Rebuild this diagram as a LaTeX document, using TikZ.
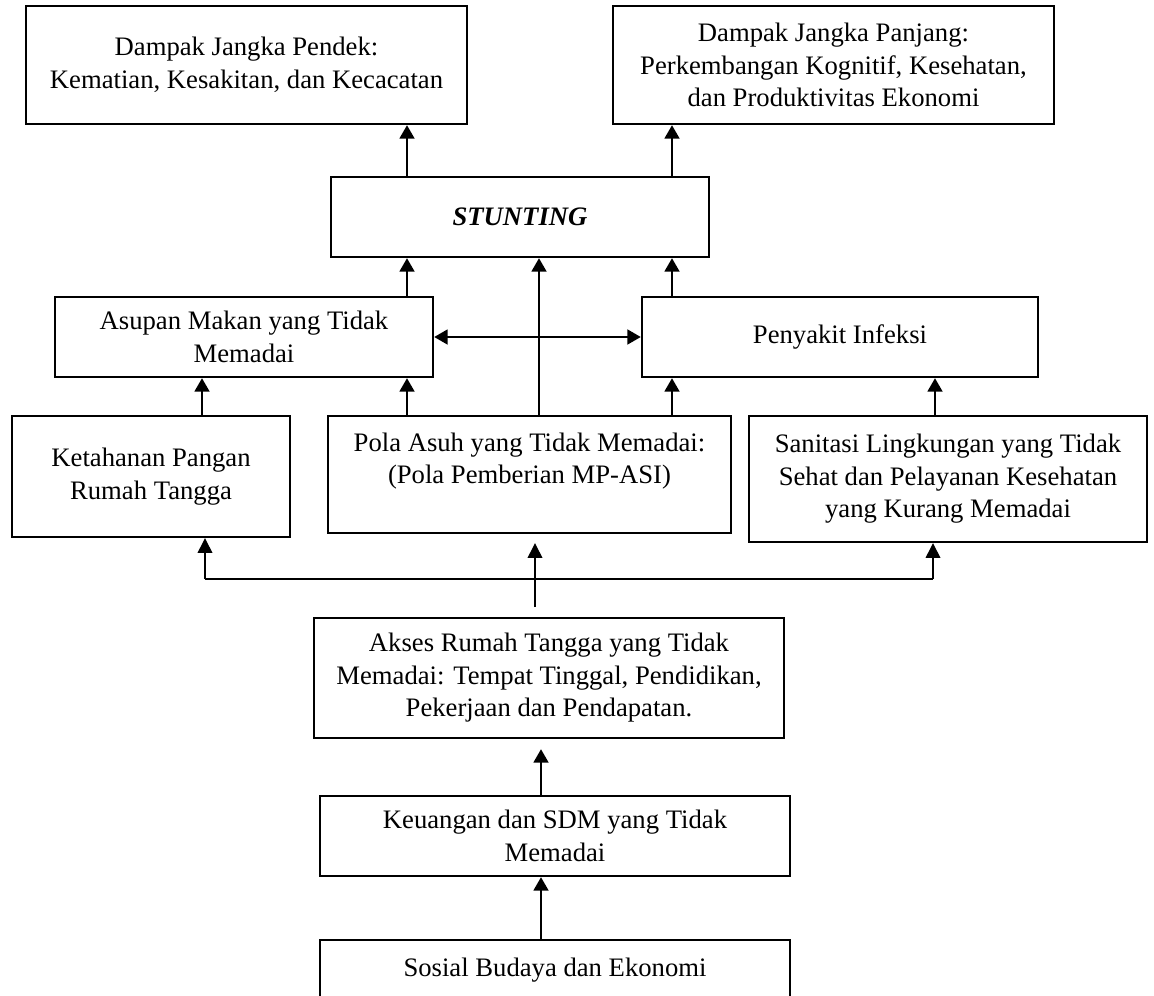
\documentclass[tikz,border=0pt]{standalone}
\usepackage{fontspec}
\setmainfont{Liberation Serif}
\usetikzlibrary{arrows.meta,calc}
\begin{document}
\begin{tikzpicture}[x=0.75pt,y=-0.75pt,
  box/.style={draw,line width=1.8pt,inner sep=0pt,align=center,font=\fontsize{20}{24.4}\selectfont},
  arr/.style={line width=1.8pt,-{Triangle[width=11pt,length=10pt]}},
  darr/.style={line width=1.8pt,{Triangle[width=11pt,length=10pt]}-{Triangle[width=11pt,length=10pt]}},
  thinline/.style={line width=1pt},
  thinarr/.style={line width=1pt,-{Triangle[width=11pt,length=11pt]}}]
\clip (0,0) rectangle (1154,996);
\fill[white] (0,0) rectangle (1154,996);

\node[box,minimum width=330.75pt,minimum height=88.5pt] (b1) at (246.5,65)
  {Dampak Jangka Pendek:\\Kematian, Kesakitan, dan Kecacatan};
\node[box,minimum width=330.75pt,minimum height=88.5pt] (b2) at (833.5,65)
  {Dampak Jangka Panjang:\\Perkembangan Kognitif, Kesehatan,\\dan Produktivitas Ekonomi};
\node[box,minimum width=283.5pt,minimum height=60pt] (stunt) at (520,217)
  {\textbf{\textit{STUNTING}}};
\node[box,minimum width=283.5pt,minimum height=60pt] (asupan) at (244,337)
  {Asupan Makan yang Tidak\\Memadai};
\node[box,minimum width=297pt,minimum height=60pt] (penyakit) at (840,337)
  {Penyakit Infeksi};
\node[box,minimum width=208.5pt,minimum height=90.75pt] (ketahanan) at (151,476.5)
  {Ketahanan Pangan\\Rumah Tangga};
\node[box,minimum width=302.25pt,minimum height=87.75pt] (pola) at (529.5,474.5)
  {Pola Asuh yang Tidak Memadai:\\(Pola Pemberian MP-ASI)\\\mbox{}};
\node[box,minimum width=298.5pt,minimum height=94.5pt] (sanitasi) at (948,479)
  {Sanitasi Lingkungan yang Tidak\\Sehat dan Pelayanan Kesehatan\\yang Kurang Memadai};
\node[box,minimum width=352.5pt,minimum height=90pt] (akses) at (549,678)
  {Akses Rumah Tangga yang Tidak\\Memadai: Tempat Tinggal, Pendidikan,\\Pekerjaan dan Pendapatan.};
\node[box,minimum width=352.5pt,minimum height=60pt] (keu) at (555,836)
  {Keuangan dan SDM yang Tidak\\Memadai};
\node[box,minimum width=352.5pt,minimum height=45pt] (sosial) at (555,970)
  {Sosial Budaya dan Ekonomi};

\coordinate (xA) at (407,0);
\coordinate (xB) at (539,0);
\coordinate (xC) at (672,0);
\coordinate (xK) at (202,0);
\coordinate (xS) at (935,0);
\coordinate (xL) at (541,0);

\draw[arr] (stunt.north -| xA) -- (b1.south -| xA);
\draw[arr] (stunt.north -| xC) -- (b2.south -| xC);
\draw[arr] (asupan.north -| xA) -- (stunt.south -| xA);
\draw[arr] (pola.north -| xB) -- (stunt.south -| xB);
\draw[arr] (penyakit.north -| xC) -- (stunt.south -| xC);
\draw[darr] (asupan.east) -- (penyakit.west);
\draw[arr] (ketahanan.north -| xK) -- (asupan.south -| xK);
\draw[arr] (pola.north -| xA) -- (asupan.south -| xA);
\draw[arr] (pola.north -| xC) -- (penyakit.south -| xC);
\draw[arr] (sanitasi.north -| xS) -- (penyakit.south -| xS);

\coordinate (busL) at (205,579);
\coordinate (busR) at (933,579);
\coordinate (mid) at (535,607);
\draw[thinline] (busL) -- (busR);
\draw[thinarr] (busL) -- (ketahanan.south -| busL);
\draw[thinarr] (busR) -- (sanitasi.south -| busR);
\draw[thinarr,shorten >=6.75pt] (mid) -- (pola.south -| mid);

\draw[arr,shorten >=7.5pt] (keu.north -| xL) -- (akses.south -| xL);
\draw[arr] (sosial.north -| xL) -- (keu.south -| xL);
\end{tikzpicture}
\end{document}
